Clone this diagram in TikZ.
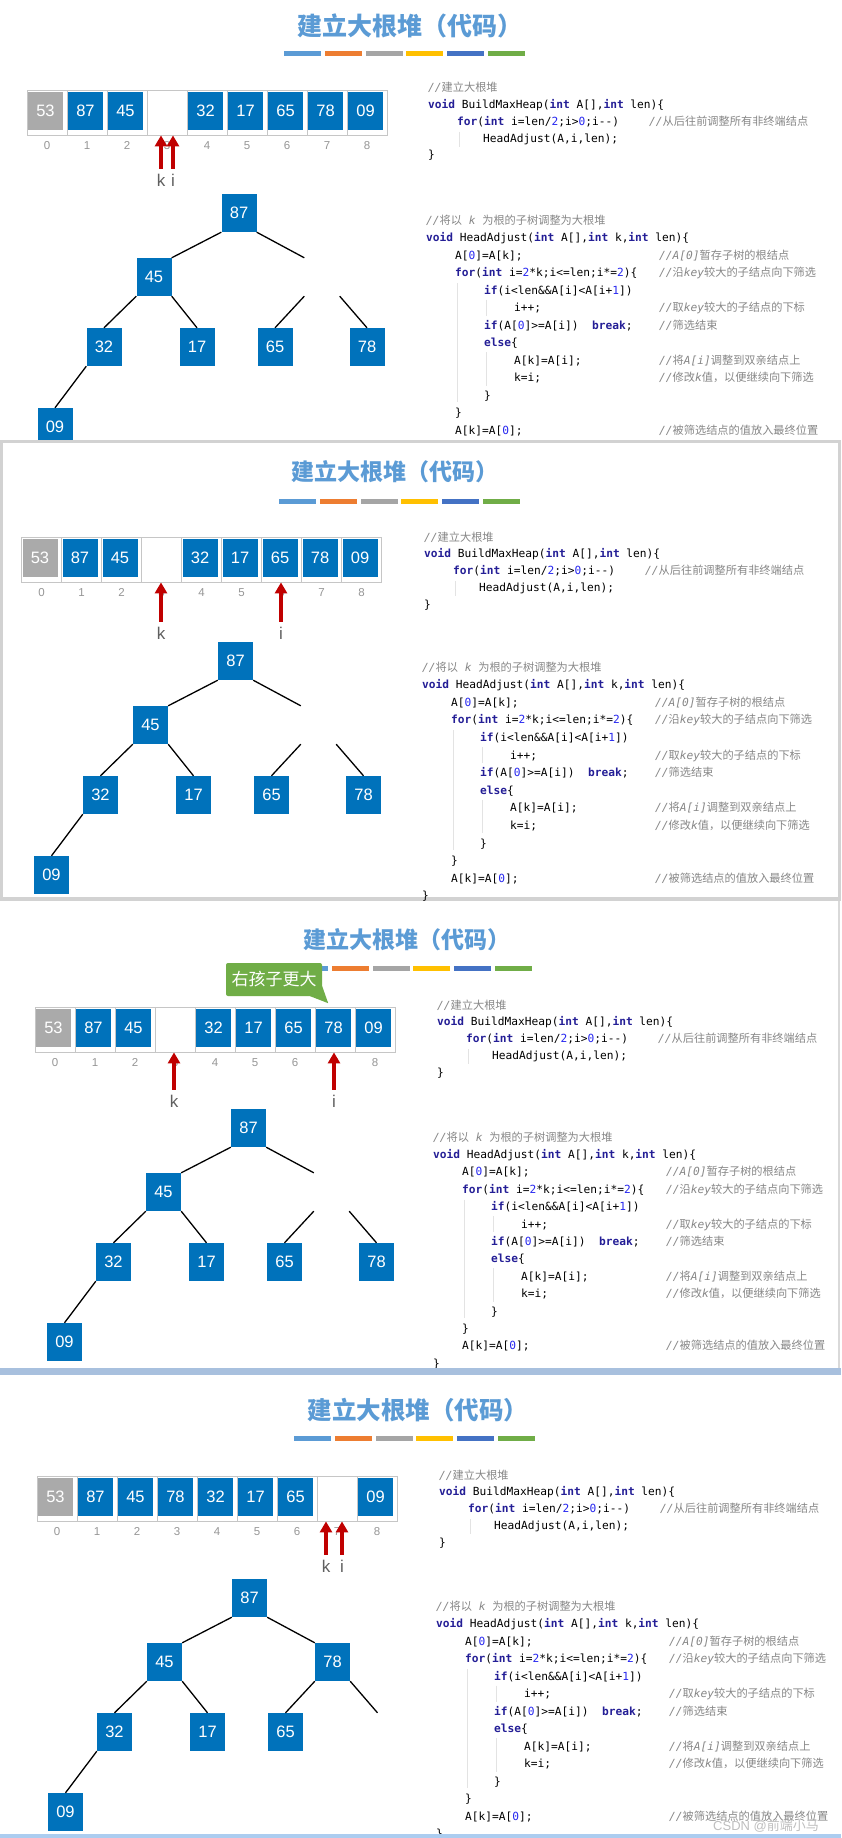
\documentclass[tikz,border=0pt]{standalone}
\usepackage{fontspec}
\usetikzlibrary{arrows.meta}
\newfontfamily\cjk{Noto Sans CJK SC}
\newfontfamily\codefont{DejaVu Sans Mono}
\newfontfamily\sansnum{Liberation Sans}
\definecolor{keyblue}{RGB}{0,114,187}
\definecolor{keygray}{RGB}{170,170,170}
\definecolor{titleblue}{RGB}{91,155,213}
\definecolor{ptrred}{RGB}{192,0,0}
\definecolor{tipgreen}{RGB}{112,173,71}
\definecolor{kwc}{RGB}{36,30,150}
\definecolor{numc}{RGB}{40,40,240}
\definecolor{cmtc}{RGB}{135,135,135}
\definecolor{idxc}{RGB}{150,150,150}
\definecolor{labc}{RGB}{95,95,95}
\definecolor{barA}{RGB}{91,155,213}
\definecolor{barB}{RGB}{237,125,49}
\definecolor{barC}{RGB}{165,165,165}
\definecolor{barD}{RGB}{255,192,0}
\definecolor{barE}{RGB}{68,114,196}
\definecolor{barF}{RGB}{112,173,71}
\definecolor{bandblue}{RGB}{172,205,240}
\definecolor{bandgray}{RGB}{168,192,222}

\newcommand\zh[1]{{\cjk\upshape #1}}
\newcommand\kw[1]{{\color{kwc}\bfseries #1}}
\newcommand\nm[1]{{\color{numc}#1}}
\newcommand\cm[1]{{\color{cmtc}\itshape #1}}

\tikzset{
  heapval/.style={fill=keyblue, text=white, minimum width=35pt, minimum height=38pt, inner sep=0pt, font=\sansnum\fontsize{16.5}{18}\selectfont},
  heapgray/.style={heapval, fill=keygray},
  emptyval/.style={minimum width=35pt, minimum height=38pt, inner sep=0pt},
  hole/.style={minimum width=35pt, minimum height=38pt, inner sep=0pt},
  arrcell/.style={draw=gray!45, line width=0.8pt, minimum width=40pt, minimum height=45pt, inner sep=0pt},
  idx/.style={text=idxc, font=\sansnum\fontsize{11.5}{13}\selectfont, inner sep=0pt, anchor=base},
  ptrlabel/.style={text=labc, font=\sansnum\fontsize{17}{19}\selectfont, inner sep=0pt},
  ptrarrow/.style={draw=ptrred, line width=4pt, -{Triangle[width=12pt,length=11pt]}, shorten <=5pt},
  treeedge/.style={draw=black, line width=1.3pt},
  codeline/.style={anchor=base west, inner sep=0pt, font=\codefont\fontsize{11.2}{13}\selectfont},
  indentguide/.style={draw=gray!22, line width=0.8pt},
  slidetitle/.style={text=titleblue, inner sep=0pt},
  callout/.style={fill=tipgreen, text=white, font=\cjk\fontsize{17}{19}\selectfont, minimum width=96pt, minimum height=33pt, inner sep=0pt, rounded corners=2pt}
}

\newcommand\colorbar[2]{%
  \foreach \c [count=\n from 0] in {barA,barB,barC,barD,barE,barF}
    \fill[\c] ({#1+40.8*\n},#2) rectangle ++(37,5);
}

\newcommand\heaparray[2]{%
  \foreach \s/\v [count=\n from 0] in {#2} {
    \node[arrcell] (#1c\n) at (40*\n+20,22.5) {};
    \node[\s] (#1v\n) at (40*\n+18.5,21) {\v};
    \node[idx] (#1i\n) at (40*\n+20,59.5) {\n};
  }
}

\newcommand\heaptree[1]{%
  \node[heapval] (#1t1) at (0,0) {87};
  \node[heapval] (#1t2) at (-85,64) {45};
  \node[hole] (#1t3) at (83,64) {};
  \node[heapval] (#1t4) at (-135,134) {32};
  \node[heapval] (#1t5) at (-42,134) {17};
  \node[heapval] (#1t6) at (36,134) {65};
  \node[heapval] (#1t7) at (128,134) {78};
  \node[heapval] (#1t8) at (-184,214) {09};
  \draw[treeedge] (#1t1.south west) -- (#1t2.north east);
  \draw[treeedge] (#1t1.south east) -- (#1t3.north west);
  \draw[treeedge] (#1t2.south west) -- (#1t4.north);
  \draw[treeedge] (#1t2.south east) -- (#1t5.north);
  \draw[treeedge] (#1t3.south west) -- (#1t6.north);
  \draw[treeedge] (#1t3.south east) -- (#1t7.north);
  \draw[treeedge] (#1t4.south west) -- (#1t8.north);
}

\newcommand\codeA[1]{%
  \node[codeline] (#1a0) at (0,0) {\cm{//\zh{建立大根堆}}};
  \node[codeline] (#1a1) at (0,16.75) {\kw{void} BuildMaxHeap(\kw{int} A[],\kw{int} len)\{};
  \node[codeline] (#1a2) at (29,33.5) {\kw{for}(\kw{int} i=len/\nm{2};i>\nm{0};i{-}{-})};
  \node[codeline] (#1a2c) at (221,33.5) {\cm{//\zh{从后往前调整所有非终端结点}}};
  \node[codeline] (#1a3) at (55,50.25) {HeadAdjust(A,i,len);};
  \node[codeline] (#1a4) at (0,67) {\}};
  \draw[indentguide] (31,40) -- (31,55);
}

\newcommand\codeB[2]{%
  \node[codeline] (#1b0) at (0,0) {\cm{//\zh{将以} k \zh{为根的子树调整为大根堆}}};
  \node[codeline] (#1b1) at (0,#2) {\kw{void} HeadAdjust(\kw{int} A[],\kw{int} k,\kw{int} len)\{};
  \node[codeline] (#1b2) at (29,2*#2) {A[\nm{0}]=A[k];};
  \node[codeline] (#1b2c) at (233,2*#2) {\cm{//A[0]\zh{暂存子树的根结点}}};
  \node[codeline] (#1b3) at (29,3*#2) {\kw{for}(\kw{int} i=\nm{2}*k;i<=len;i*=\nm{2})\{};
  \node[codeline] (#1b3c) at (233,3*#2) {\cm{//\zh{沿}key\zh{较大的子结点向下筛选}}};
  \node[codeline] (#1b4) at (58,4*#2) {\kw{if}(i<len\&\&A[i]<A[i+\nm{1}])};
  \node[codeline] (#1b5) at (88,5*#2) {i++;};
  \node[codeline] (#1b5c) at (233,5*#2) {\cm{//\zh{取}key\zh{较大的子结点的下标}}};
  \node[codeline] (#1b6) at (58,6*#2) {\kw{if}(A[\nm{0}]>=A[i])\ \ \kw{break};};
  \node[codeline] (#1b6c) at (233,6*#2) {\cm{//\zh{筛选结束}}};
  \node[codeline] (#1b7) at (58,7*#2) {\kw{else}\{};
  \node[codeline] (#1b8) at (88,8*#2) {A[k]=A[i];};
  \node[codeline] (#1b8c) at (233,8*#2) {\cm{//\zh{将}A[i]\zh{调整到双亲结点上}}};
  \node[codeline] (#1b9) at (88,9*#2) {k=i;};
  \node[codeline] (#1b9c) at (233,9*#2) {\cm{//\zh{修改}k\zh{值，以便继续向下筛选}}};
  \node[codeline] (#1b10) at (58,10*#2) {\}};
  \node[codeline] (#1b11) at (29,11*#2) {\}};
  \node[codeline] (#1b12) at (29,12*#2) {A[k]=A[\nm{0}];};
  \node[codeline] (#1b12c) at (233,12*#2) {\cm{//\zh{被筛选结点的值放入最终位置}}};
  \node[codeline] (#1b13) at (0,13*#2) {\}};
  \draw[indentguide] (31,4*#2-11) -- (31,10*#2+3);
  \draw[indentguide] (60,5*#2-12) -- (60,5*#2+4);
  \draw[indentguide] (60,8*#2-12) -- (60,9*#2+4);
}

\begin{document}
\begin{tikzpicture}[x=1pt,y=-1pt]
\useasboundingbox (0,0) rectangle (841,1838);
\fill[white] (0,0) rectangle (841,1838);

\node[slidetitle, font=\cjk\bfseries\fontsize{25}{28}\selectfont] (p1title) at (410,26) {建立大根堆（代码）};
\colorbar{284}{51}
\begin{scope}[shift={(27,90)}]
  \heaparray{p1}{heapgray/53,heapval/87,heapval/45,emptyval/,heapval/32,heapval/17,heapval/65,heapval/78,heapval/09}
\end{scope}
\node[ptrlabel] (p1k) at (161,180) {k};
\node[ptrlabel] (p1i) at (173,180) {i};
\draw[ptrarrow] (p1k.north) -- (p1k.north |- p1c3.south);
\draw[ptrarrow] (p1i.north) -- (p1i.north |- p1c3.south);
\begin{scope}[shift={(239,213)}]
  \heaptree{p1}
\end{scope}
\begin{scope}[shift={(428,92)}]
  \codeA{p1}
\end{scope}
\begin{scope}[shift={(426,224)}]
  \codeB{p1}{17.5}
\end{scope}

\fill[gray!35] (0,440) rectangle (841,901);
\fill[white] (3,443) rectangle (838,897);
\node[slidetitle, font=\cjk\bfseries\fontsize{23}{26}\selectfont] (p2title) at (395,472) {建立大根堆（代码）};
\colorbar{279}{499}
\begin{scope}[shift={(21.5,537)}]
  \heaparray{p2}{heapgray/53,heapval/87,heapval/45,emptyval/,heapval/32,heapval/17,heapval/65,heapval/78,heapval/09}
\end{scope}
\node[ptrlabel] (p2k) at (161,633) {k};
\node[ptrlabel] (p2i) at (281,633) {i};
\draw[ptrarrow] (p2k.north) -- (p2k.north |- p2c3.south);
\draw[ptrarrow] (p2i.north) -- (p2i.north |- p2c6.south);
\begin{scope}[shift={(235.5,661)}]
  \heaptree{p2}
\end{scope}
\begin{scope}[shift={(424,541)}]
  \codeA{p2}
\end{scope}
\begin{scope}[shift={(422,671)}]
  \codeB{p2}{17.6}
\end{scope}

\node[slidetitle, font=\cjk\bfseries\fontsize{23}{26}\selectfont] (p3title) at (407,940) {建立大根堆（代码）};
\colorbar{291}{966}
\node[callout] (p3tip) at (274,979.5) {右孩子更大};
\fill[tipgreen] ([xshift=-12pt]p3tip.south east) -- ([xshift=6pt,yshift=-7pt]p3tip.south east) -- ([yshift=10pt]p3tip.south east) -- cycle;
\begin{scope}[shift={(35,1007)}]
  \heaparray{p3}{heapgray/53,heapval/87,heapval/45,emptyval/,heapval/32,heapval/17,heapval/65,heapval/78,heapval/09}
\end{scope}
\node[ptrlabel] (p3k) at (174,1101) {k};
\node[ptrlabel] (p3i) at (334,1101) {i};
\draw[ptrarrow] (p3k.north) -- (p3k.north |- p3c3.south);
\draw[ptrarrow] (p3i.north) -- (p3i.north |- p3c7.south);
\begin{scope}[shift={(248.5,1128)}]
  \heaptree{p3}
\end{scope}
\begin{scope}[shift={(437,1009)}]
  \codeA{p3}
\end{scope}
\begin{scope}[shift={(433,1141)}]
  \codeB{p3}{17.4}
\end{scope}
\draw[gray!30, line width=1.5pt] (839,901) -- (839,1368);
\fill[bandgray] (0,1368) rectangle (841,1375);

\node[slidetitle, font=\cjk\bfseries\fontsize{24.5}{27}\selectfont] (p4title) at (418,1410) {建立大根堆（代码）};
\colorbar{294}{1436}
\begin{scope}[shift={(37,1476)}]
  \heaparray{p4}{heapgray/53,heapval/87,heapval/45,heapval/78,heapval/32,heapval/17,heapval/65,emptyval/,heapval/09}
\end{scope}
\node[ptrlabel] (p4k) at (326,1566) {k};
\node[ptrlabel] (p4i) at (342,1566) {i};
\draw[ptrarrow] (p4k.north) -- (p4k.north |- p4c7.south);
\draw[ptrarrow] (p4i.north) -- (p4i.north |- p4c7.south);
\begin{scope}[shift={(249.5,1598)}]
  \node[heapval] (p4t1) at (0,0) {87};
  \node[heapval] (p4t2) at (-85,64) {45};
  \node[heapval] (p4t3) at (83,64) {78};
  \node[heapval] (p4t4) at (-135,134) {32};
  \node[heapval] (p4t5) at (-42,134) {17};
  \node[heapval] (p4t6) at (36,134) {65};
  \node[hole] (p4t7) at (128,134) {};
  \node[heapval] (p4t8) at (-184,214) {09};
  \draw[treeedge] (p4t1.south west) -- (p4t2.north east);
  \draw[treeedge] (p4t1.south east) -- (p4t3.north west);
  \draw[treeedge] (p4t2.south west) -- (p4t4.north);
  \draw[treeedge] (p4t2.south east) -- (p4t5.north);
  \draw[treeedge] (p4t3.south west) -- (p4t6.north);
  \draw[treeedge] (p4t3.south east) -- (p4t7.north);
  \draw[treeedge] (p4t4.south west) -- (p4t8.north);
\end{scope}
\begin{scope}[shift={(439,1479)}]
  \codeA{p4}
\end{scope}
\begin{scope}[shift={(436,1610)}]
  \codeB{p4}{17.5}
\end{scope}
\node[anchor=west, text=gray!50, font=\sansnum\fontsize{13}{15}\selectfont, inner sep=0pt] (mark) at (713,1826) {CSDN @\zh{前端小马}};
\fill[bandblue] (0,1834) rectangle (841,1838);
\end{tikzpicture}
\end{document}
